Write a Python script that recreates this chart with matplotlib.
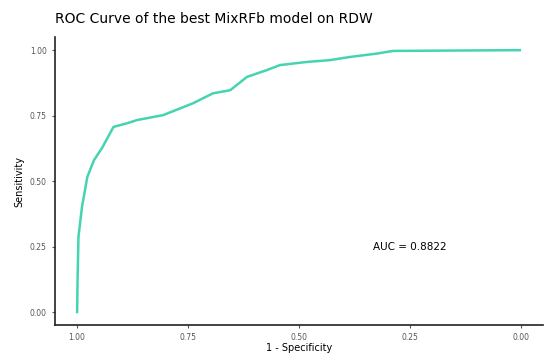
import matplotlib
matplotlib.use("Agg")
import matplotlib.pyplot as plt

# ROC curve points (specificity, sensitivity)
specificity = [1.000, 0.999, 0.997, 0.989, 0.977, 0.962, 0.944, 0.918, 0.887,
               0.865, 0.806, 0.739, 0.694, 0.655, 0.617, 0.572, 0.543, 0.482,
               0.430, 0.385, 0.324, 0.288, 0.200, 0.002]
sensitivity = [0.000, 0.122, 0.287, 0.402, 0.516, 0.580, 0.626, 0.707, 0.721,
               0.733, 0.752, 0.797, 0.835, 0.847, 0.898, 0.924, 0.943, 0.955,
               0.962, 0.974, 0.987, 0.997, 0.998, 1.000]
ticks = [1.00, 0.75, 0.50, 0.25, 0.00]
auc_text = "AUC = 0.8822"

fig = plt.figure(figsize=(5.44, 3.53), dpi=100)
ax = fig.add_axes([0.101, 0.079, 0.897, 0.816])

ax.plot(specificity, sensitivity, color="#46D3B2", lw=1.8)

ax.set_xlim(1.05, -0.05)
ax.set_ylim(-0.05, 1.05)
ax.set_xticks(ticks)
ax.set_yticks(ticks)
ax.set_xticklabels([f"{t:.2f}" for t in ticks])
ax.set_yticklabels([f"{t:.2f}" for t in ticks])
ax.tick_params(labelsize=5.5, labelcolor="#555555", color="#555555",
               length=2.5, width=0.8)

for side in ["top", "right"]:
    ax.spines[side].set_visible(False)
for side in ["left", "bottom"]:
    ax.spines[side].set_linewidth(1.2)
    ax.spines[side].set_color("#222222")

ax.set_xlabel("1 - Specificity", fontsize=7, labelpad=0.5)
ax.set_ylabel("Sensitivity", fontsize=7, labelpad=4)
ax.text(0.25, 0.25, auc_text, fontsize=7.5, ha="center", va="center")

fig.text(0.101, 0.945, "ROC Curve of the best MixRFb model on RDW",
         fontsize=10, ha="left", va="center")

fig.savefig("out.png", dpi=100)
